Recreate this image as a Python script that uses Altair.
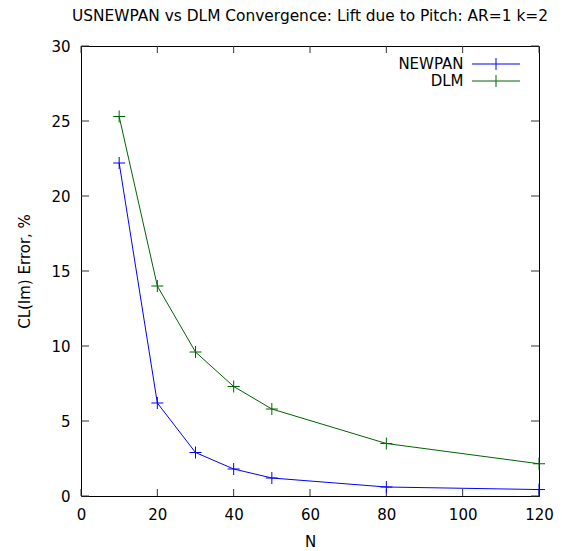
import altair as alt
import pandas as pd

# data
n_values = [10, 20, 30, 40, 50, 80, 120]
newpan_err = [22.2, 6.2, 2.9, 1.8, 1.2, 0.6, 0.43]
dlm_err = [25.3, 14.0, 9.6, 7.3, 5.8, 3.5, 2.15]
series_names = ["NEWPAN", "DLM"]
series_colors = ["#0000ff", "#006400"]
x_ticks = [0, 20, 40, 60, 80, 100, 120]
y_ticks = [0, 5, 10, 15, 20, 25, 30]

rows = []
for name, vals in zip(series_names, [newpan_err, dlm_err]):
    for n, v in zip(n_values, vals):
        rows.append({"N": n, "err": v, "series": name})
df = pd.DataFrame(rows)
xt = pd.DataFrame({"t": x_ticks})
yt = pd.DataFrame({"t": y_ticks})

W, H = 458, 450
FONT = "DejaVu Sans"
FS = 15
TL = 7

xscale = alt.Scale(domain=[0, 120], nice=False, zero=False)
yscale = alt.Scale(domain=[0, 30], nice=False)
color_scale = alt.Scale(domain=series_names, range=series_colors)

x_axis = alt.Axis(values=x_ticks, title="N", grid=False, ticks=False, tickSize=0,
                  domain=False, labelPadding=11, titlePadding=12, labelFlush=False)
y_axis = alt.Axis(values=y_ticks, title="CL(Im) Error, %", grid=False, ticks=False,
                  tickSize=0, domain=False, labelPadding=11, titlePadding=18,
                  labelFlush=False)

base = alt.Chart(df)

lines = base.mark_line(strokeWidth=1, clip=True).encode(
    x=alt.X("N:Q", scale=xscale, axis=x_axis),
    y=alt.Y("err:Q", scale=yscale, axis=y_axis),
    color=alt.Color("series:N", scale=color_scale, sort=series_names,
                    legend=alt.Legend(title=None)),
    order="N:Q",
)

points = base.mark_point(shape="M-1,0H1M0,-1V1", size=144, filled=False,
                         strokeWidth=1, opacity=1).encode(
    x=alt.X("N:Q", scale=xscale),
    y=alt.Y("err:Q", scale=yscale),
    color=alt.Color("series:N", scale=color_scale, sort=series_names, legend=None),
)

tick_color = "#333333"
xb = alt.Chart(xt).mark_rule(color=tick_color, strokeWidth=1).encode(
    x=alt.X("t:Q", scale=xscale), y=alt.value(H), y2=alt.value(H - TL))
xtop = alt.Chart(xt).mark_rule(color=tick_color, strokeWidth=1).encode(
    x=alt.X("t:Q", scale=xscale), y=alt.value(0), y2=alt.value(TL))
yl = alt.Chart(yt).mark_rule(color=tick_color, strokeWidth=1).encode(
    y=alt.Y("t:Q", scale=yscale), x=alt.value(0), x2=alt.value(TL + 1))
yr = alt.Chart(yt).mark_rule(color=tick_color, strokeWidth=1).encode(
    y=alt.Y("t:Q", scale=yscale), x=alt.value(W), x2=alt.value(W - TL - 1))

chart = alt.layer(xb, xtop, yl, yr, lines, points).properties(
    width=W, height=H,
    title=alt.TitleParams("USNEWPAN vs DLM Convergence: Lift due to Pitch: AR=1 k=2",
                          font=FONT, fontSize=15.4, fontWeight="normal",
                          color="#000000", anchor="middle", offset=15),
    autosize=alt.AutoSizeParams(type="none"),
    padding={"left": 81, "top": 46, "right": 23, "bottom": 55},
).configure_view(
    stroke="#000000", strokeWidth=1
).configure_axis(
    labelFont=FONT, labelFontSize=FS, labelColor="#000000",
    titleFont=FONT, titleFontSize=FS, titleColor="#000000", titleFontWeight="normal",
).configure_legend(
    orient="none", legendX=407.5, legendY=10.5, padding=0,
    symbolType="M-4,0H4M0,-1V1", symbolSize=144, symbolStrokeWidth=1,
    labelFont=FONT, labelFontSize=FS, labelColor="#000000",
    labelAlign="right", labelOffset={"expr": "-40"}, rowPadding=0,
)

chart.save("out.html", embed_options={"renderer": "svg", "actions": False})
